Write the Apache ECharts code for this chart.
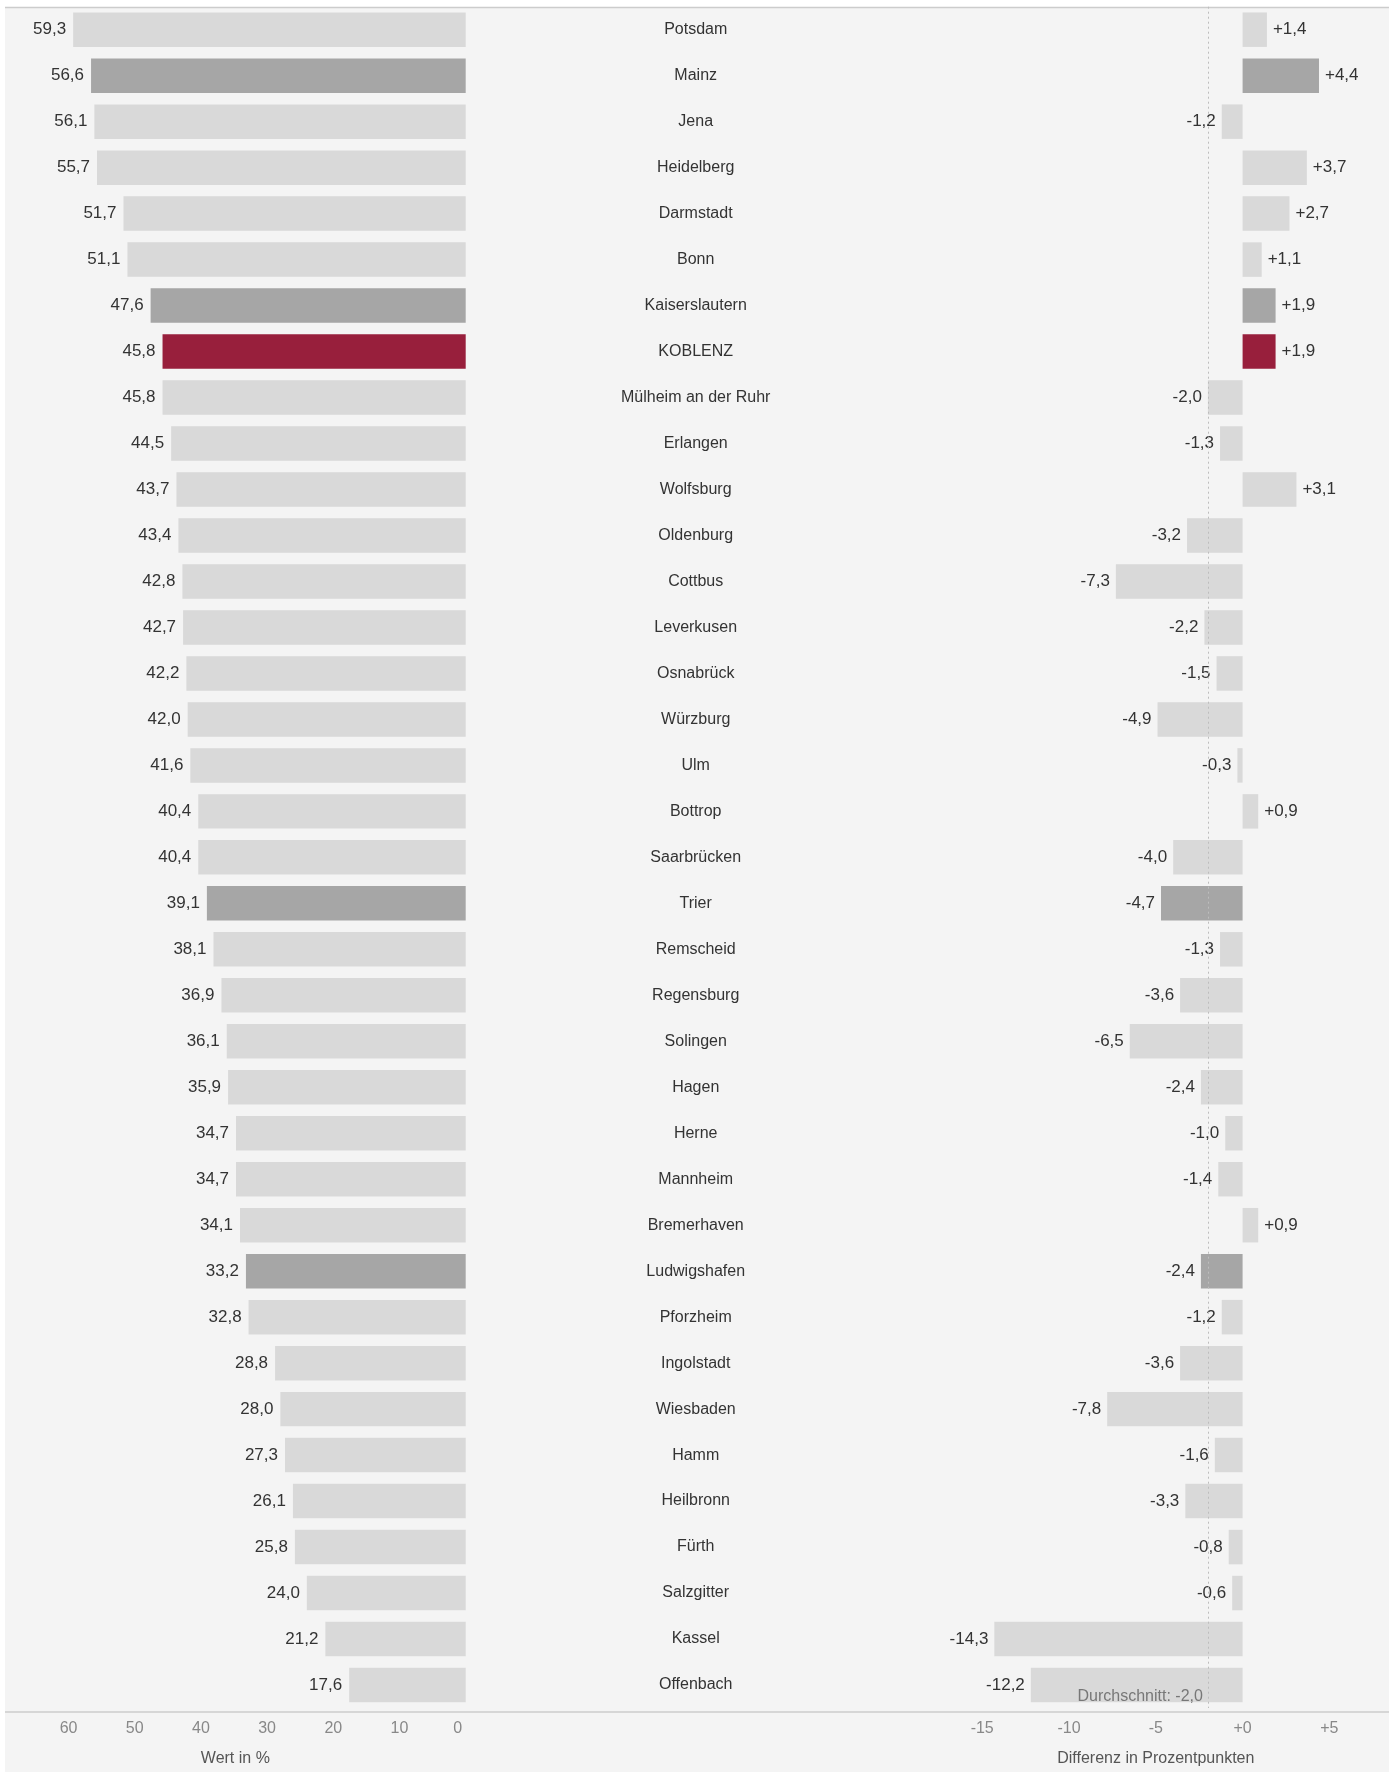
<!DOCTYPE html>
<html>
<head>
<meta charset="utf-8">
<script src="https://cdn.jsdelivr.net/npm/echarts@6/dist/echarts.min.js"></script>
<style>
  html, body { margin: 0; padding: 0; background: #fff; }
  #main { width: 1394px; height: 1772px; }
</style>
</head>
<body>
<div id="main"></div>
<script>
var cities = ['Potsdam', 'Mainz', 'Jena', 'Heidelberg', 'Darmstadt', 'Bonn', 'Kaiserslautern', 'KOBLENZ',
  'Mülheim an der Ruhr', 'Erlangen', 'Wolfsburg', 'Oldenburg', 'Cottbus', 'Leverkusen', 'Osnabrück', 'Würzburg',
  'Ulm', 'Bottrop', 'Saarbrücken', 'Trier', 'Remscheid', 'Regensburg', 'Solingen', 'Hagen', 'Herne', 'Mannheim',
  'Bremerhaven', 'Ludwigshafen', 'Pforzheim', 'Ingolstadt', 'Wiesbaden', 'Hamm', 'Heilbronn', 'Fürth', 'Salzgitter',
  'Kassel', 'Offenbach'];
var wert = [59.3, 56.6, 56.1, 55.7, 51.7, 51.1, 47.6, 45.8, 45.8, 44.5, 43.7, 43.4, 42.8, 42.7, 42.2, 42.0,
  41.6, 40.4, 40.4, 39.1, 38.1, 36.9, 36.1, 35.9, 34.7, 34.7, 34.1, 33.2, 32.8, 28.8, 28.0, 27.3, 26.1, 25.8, 24.0,
  21.2, 17.6];
var differenz = [1.4, 4.4, -1.2, 3.7, 2.7, 1.1, 1.9, 1.9, -2.0, -1.3, 3.1, -3.2, -7.3, -2.2, -1.5, -4.9,
  -0.3, 0.9, -4.0, -4.7, -1.3, -3.6, -6.5, -2.4, -1.0, -1.4, 0.9, -2.4, -1.2, -3.6, -7.8, -1.6, -3.3, -0.8, -0.6,
  -14.3, -12.2];
var durchschnitt = -2.0;
var rlpCities = ['Mainz', 'Kaiserslautern', 'Trier', 'Ludwigshafen'];
var focusCity = 'KOBLENZ';

var FONT = '"Liberation Sans", Arial, sans-serif';

function barColor(name) {
  if (name === focusCity) return '#981f3c';
  if (rlpCities.indexOf(name) >= 0) return '#a6a6a6';
  return '#d9d9d9';
}
function komma(v) {
  return v.toFixed(1).replace('.', ',');
}

var myChart = echarts.init(document.getElementById('main'));

var wertData = wert.map(function (v, i) {
  return { value: v, itemStyle: { color: barColor(cities[i]) } };
});
var diffData = differenz.map(function (v, i) {
  return {
    value: v,
    itemStyle: { color: barColor(cities[i]) },
    label: { position: v >= 0 ? 'right' : 'left' }
  };
});

option = {
  backgroundColor: '#ffffff',
  animation: false,
  textStyle: { fontFamily: FONT },
  graphic: [
    { type: 'rect', z: -10, shape: { x: 5, y: 7, width: 1384, height: 1765 }, style: { fill: '#f4f4f4' } },
    { type: 'line', shape: { x1: 5, y1: 7.5, x2: 1389, y2: 7.5 }, style: { stroke: '#cccccc', lineWidth: 1.5 } },
    { type: 'line', shape: { x1: 5, y1: 1712, x2: 1389, y2: 1712 }, style: { stroke: '#cccccc', lineWidth: 1.5 } }
  ],
  grid: [
    { left: 5, width: 460.7, top: 6.7, height: 1705.3 },
    { left: 982.2, width: 347.2, top: 6.7, height: 1705.3 }
  ],
  xAxis: [
    {
      gridIndex: 0, type: 'value', inverse: true, min: 0, max: 69.6, interval: 10,
      name: 'Wert in %', nameLocation: 'middle', nameGap: 43,
      nameTextStyle: { color: '#555', fontSize: 16, fontFamily: FONT },
      axisLine: { show: false }, axisTick: { show: false }, splitLine: { show: false },
      axisLabel: {
        color: '#888', fontSize: 16, margin: 13, showMaxLabel: false, fontFamily: FONT,
        // the 0 sits flush with the bar ends, so nudge it left
        formatter: function (v) { return v === 0 ? '{z|0}' : String(v); },
        rich: { z: { color: '#888', fontSize: 16, fontFamily: FONT, padding: [0, 16, 0, 0] } }
      }
    },
    {
      gridIndex: 1, type: 'value', min: -15, max: 5, interval: 5,
      name: 'Differenz in Prozentpunkten', nameLocation: 'middle', nameGap: 43,
      nameTextStyle: { color: '#555', fontSize: 16, fontFamily: FONT },
      axisLine: { show: false }, axisTick: { show: false }, splitLine: { show: false },
      axisLabel: {
        color: '#888', fontSize: 16, margin: 13, fontFamily: FONT,
        formatter: function (v) { return v >= 0 ? '+' + v : String(v); }
      }
    }
  ],
  yAxis: [
    {
      gridIndex: 0, type: 'category', data: cities, inverse: true, position: 'right',
      axisLine: { show: false }, axisTick: { show: false },
      axisLabel: { margin: 230, align: 'center', color: '#333', fontSize: 16, fontFamily: FONT }
    },
    {
      gridIndex: 1, type: 'category', data: cities, inverse: true,
      axisLine: { show: false }, axisTick: { show: false }, axisLabel: { show: false }
    }
  ],
  series: [
    {
      name: 'Wert', type: 'bar', xAxisIndex: 0, yAxisIndex: 0,
      barCategoryGap: '25%', data: wertData,
      label: {
        show: true, position: 'left', distance: 7, color: '#333', fontSize: 17, fontFamily: FONT,
        formatter: function (p) { return komma(p.value); }
      }
    },
    {
      name: 'Differenz', type: 'bar', xAxisIndex: 1, yAxisIndex: 1,
      barCategoryGap: '25%', data: diffData,
      label: {
        show: true, distance: 6, color: '#333', fontSize: 17, fontFamily: FONT,
        formatter: function (p) { return (p.value > 0 ? '+' : '') + komma(p.value); }
      },
      markLine: {
        silent: true, symbol: 'none',
        lineStyle: { type: [2, 3], color: '#bdbdbd', width: 1 },
        label: { show: false },
        data: [{ xAxis: durchschnitt }]
      },
      markPoint: {
        silent: true, symbol: 'circle', symbolSize: 0,
        data: [{ coord: [durchschnitt, cities.length - 1] }],
        label: {
          show: true, position: 'left', distance: 5, offset: [0, 12],
          color: '#777', fontSize: 16, fontFamily: FONT,
          formatter: 'Durchschnitt: ' + komma(durchschnitt)
        }
      }
    }
  ]
};

myChart.setOption(option);

window.addEventListener('resize', function () {
  myChart.resize();
});
</script>
</body>
</html>
